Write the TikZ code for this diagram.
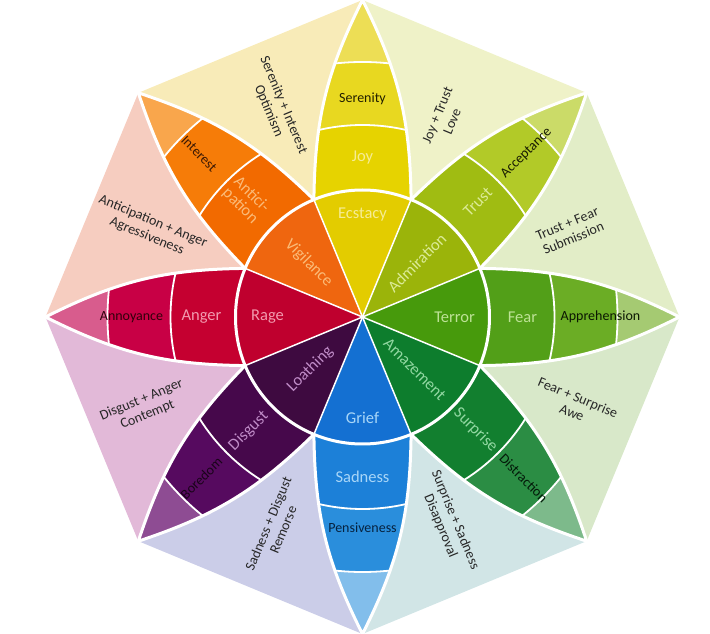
\documentclass[tikz,border=0pt]{standalone}
\usepackage{fontspec}
\setmainfont{Carlito}
% petal colours: A inner, B middle, C outer, D tip, L light text
\definecolor{joyA}{HTML}{E3CC00}\definecolor{joyB}{HTML}{E6D300}\definecolor{joyC}{HTML}{E8D820}\definecolor{joyD}{HTML}{EDDE55}\definecolor{joyL}{HTML}{F6EC95}
\definecolor{truA}{HTML}{9BB40A}\definecolor{truB}{HTML}{A0BC12}\definecolor{truC}{HTML}{B2CA28}\definecolor{truD}{HTML}{CBDB68}\definecolor{truL}{HTML}{DCEB98}
\definecolor{feaA}{HTML}{479A0C}\definecolor{feaB}{HTML}{529F18}\definecolor{feaC}{HTML}{6BAD25}\definecolor{feaD}{HTML}{A5CA72}\definecolor{feaL}{HTML}{BDE296}
\definecolor{surA}{HTML}{0D7D2D}\definecolor{surB}{HTML}{127F2F}\definecolor{surC}{HTML}{2B8D44}\definecolor{surD}{HTML}{7DBA8B}\definecolor{surL}{HTML}{92D8A2}
\definecolor{sadA}{HTML}{1470D2}\definecolor{sadB}{HTML}{1C80D8}\definecolor{sadC}{HTML}{2A8EDC}\definecolor{sadD}{HTML}{82BEEB}\definecolor{sadL}{HTML}{A8D6F8}
\definecolor{disA}{HTML}{3E0A40}\definecolor{disB}{HTML}{46084B}\definecolor{disC}{HTML}{560A5F}\definecolor{disD}{HTML}{8E4C93}\definecolor{disL}{HTML}{C08CC8}
\definecolor{angA}{HTML}{BF002E}\definecolor{angB}{HTML}{C50030}\definecolor{angC}{HTML}{C80045}\definecolor{angD}{HTML}{D85C8D}\definecolor{angL}{HTML}{F29AAE}
\definecolor{antA}{HTML}{EF660F}\definecolor{antB}{HTML}{F26A00}\definecolor{antC}{HTML}{F67C08}\definecolor{antD}{HTML}{F9A64C}\definecolor{antL}{HTML}{FBBB78}
% dyad colours
\definecolor{dyOpt}{HTML}{F8EBB8}\definecolor{dyLove}{HTML}{EFF2C8}\definecolor{dySub}{HTML}{E2EDC7}\definecolor{dyAwe}{HTML}{D8E8C9}
\definecolor{dyDis}{HTML}{D1E5E6}\definecolor{dyRem}{HTML}{CBCDE8}\definecolor{dyCon}{HTML}{E2B9D8}\definecolor{dyAgg}{HTML}{F6CDC0}
\definecolor{darktxt}{HTML}{262626}
\begin{document}
\begin{tikzpicture}[x=1pt,y=1pt,
  inner/.style={font=\fontsize{16.5}{18}\selectfont, inner sep=0pt},
  outer/.style={font=\fontsize{14}{16}\selectfont, inner sep=0pt},
  dyad/.style={font=\fontsize{14}{16}\selectfont, align=center, text=darktxt, inner sep=0pt}]
\useasboundingbox (-362.5,-317) rectangle (347.5,317);
\def\Ri{127}\def\Rii{192}\def\Riii{255}\def\R{317}\def\bnd{13}
% dyad wedges
\foreach \a/\c in {112.5/dyOpt,67.5/dyLove,22.5/dySub,-22.5/dyAwe,-67.5/dyDis,-112.5/dyRem,-157.5/dyCon,157.5/dyAgg}{
  \fill[\c] (0,0) -- (\a-22.5:\R) -- (\a+22.5:\R) -- cycle;
}
% petals
\foreach \t/\ca/\cb/\cc/\cd in {90/joyA/joyB/joyC/joyD,45/truA/truB/truC/truD,0/feaA/feaB/feaC/feaD,-45/surA/surB/surC/surD,-90/sadA/sadB/sadC/sadD,-135/disA/disB/disC/disD,180/angA/angB/angC/angD,135/antA/antB/antC/antD}{
  \begin{scope}
    \clip (\t-22.5:\Ri) to[bend right=\bnd] (\t:\R) to[bend right=\bnd] (\t+22.5:\Ri)
      arc[start angle=\t+22.5, end angle=\t-22.5, radius=\Ri] -- cycle;
    \fill[\cd] (0,0) circle (\R+10);
    \fill[\cc] (0,0) circle (\Riii);
    \fill[\cb] (0,0) circle (\Rii);
    \draw[white, line width=1.8] (0,0) circle (\Riii);
    \draw[white, line width=1.8] (0,0) circle (\Rii);
  \end{scope}
  \draw[white, line width=3, line join=round] (\t-22.5:\Ri) to[bend right=\bnd] (\t:\R) to[bend right=\bnd] (\t+22.5:\Ri);
  \fill[\ca] (0,0) -- (\t-22.5:\Ri) arc[start angle=\t-22.5, end angle=\t+22.5, radius=\Ri] -- cycle;
}
\foreach \a in {22.5,67.5,...,360}{
  \draw[white, line width=1.5] (0,0) -- (\a:\Ri);
}
\draw[white, line width=3] (0,0) circle (\Ri);
% inner ring labels
\node[inner, text=joyL] (ecstacy) at (90:102) {Ecstacy};
\node[inner, text=truL, rotate=45] (admiration) at (45:77) {Admiration};
\node[inner, text=feaL] (terror) at (0:92) {Terror};
\node[inner, text=surL, rotate=-45] (amazement) at (-45:74) {Amazement};
\node[inner, text=sadL] (grief) at (-90:101) {Grief};
\node[inner, text=disL, rotate=45] (loathing) at (-135:74) {Loathing};
\node[inner, text=angL] (rage) at (180:95) {Rage};
\node[inner, text=antL, rotate=-45] (vigilance) at (135:76) {Vigilance};
% middle ring labels
\node[inner, text=joyL] (joy) at (90:159) {Joy};
\node[inner, text=truL, rotate=45] (trust) at (45:163) {Trust};
\node[inner, text=feaL] (fear) at (0:160) {Fear};
\node[inner, text=surL, rotate=-45] (surprise) at (-45:160) {Surprise};
\node[inner, text=sadL] (sadness) at (-90:160) {Sadness};
\node[inner, text=disL, rotate=45] (disgust) at (-135:161) {Disgust};
\node[inner, text=angL] (anger) at (180:161) {Anger};
\node[inner, text=antL, rotate=-45, align=center, font=\fontsize{16.5}{16}\selectfont] (anticipation) at (135:165) {Antici-\\pation};
% outer ring labels
\node[outer, text=black!85!joyA] (serenity) at (90:218) {Serenity};
\node[outer, text=black!85!truA, rotate=45] (acceptance) at (45:232) {Acceptance};
\node[outer, text=black!85!feaA] (apprehension) at (0:238) {Apprehension};
\node[outer, text=black!80!surA, rotate=-45] (distraction) at (-45:228) {Distraction};
\node[outer, text=black!70!sadA] (pensiveness) at (-90:211) {Pensiveness};
\node[outer, text=black!60!disA, rotate=45] (boredom) at (-135:228) {Boredom};
\node[outer, text=black!75!angA] (annoyance) at (180:231) {Annoyance};
\node[outer, text=black!75!antA, rotate=-45] (interest) at (135:231) {Interest};
% dyad labels
\node[dyad, rotate=-67.5] (optimism) at (112.5:226) {Serenity + Interest\\Optimism};
\node[dyad, rotate=67.5] (love) at (67.5:215) {Joy + Trust\\Love};
\node[dyad, rotate=22.5] (submission) at (22.5:225) {Trust + Fear\\Submission};
\node[dyad, rotate=-22.5] (awe) at (-22.5:230) {Fear + Surprise\\Awe};
\node[dyad, rotate=-67.5] (disapproval) at (-67.5:223) {Surprise + Sadness\\Disapproval};
\node[dyad, rotate=67.5] (remorse) at (-112.5:227) {Sadness + Disgust\\Remorse};
\node[dyad, rotate=22.5] (contempt) at (-157.5:236) {Disgust + Anger\\Contempt};
\node[dyad, rotate=-22.5] (aggressiveness) at (157.5:230) {Anticipation + Anger\\Agressiveness};
\end{tikzpicture}
\end{document}
